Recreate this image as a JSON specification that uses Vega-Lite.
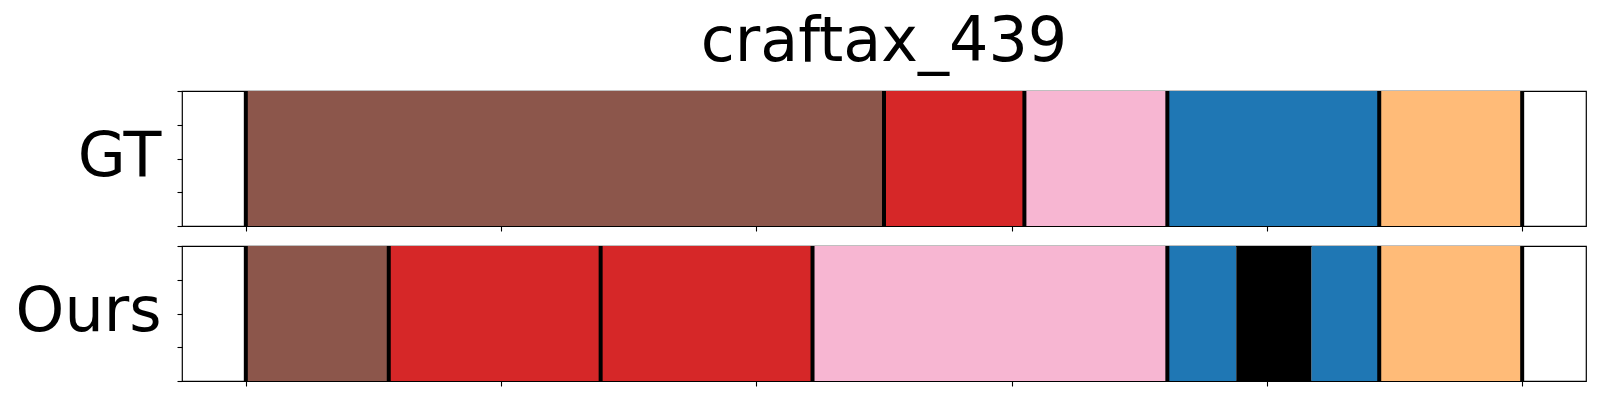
{
  "$schema": "https://vega.github.io/schema/vega-lite/v6.json",
  "background": "white",
  "padding": {"left": 14, "top": 10, "right": 5, "bottom": 5},
  "config": {
    "font": "DejaVu Sans",
    "view": {"stroke": "black", "strokeWidth": 1.2},
    "axis": {"grid": false, "domain": false, "labels": false, "tickColor": "black", "tickSize": 5, "tickWidth": 1.1}
  },
  "datasets": {
    "segments": [
      {"panel": "GT", "start": 0, "end": 250, "cls": "10"},
      {"panel": "GT", "start": 250, "end": 305, "cls": "6"},
      {"panel": "GT", "start": 305, "end": 361, "cls": "13"},
      {"panel": "GT", "start": 361, "end": 444, "cls": "0"},
      {"panel": "GT", "start": 444, "end": 500, "cls": "3"},
      {"panel": "Ours", "start": 0, "end": 56, "cls": "10"},
      {"panel": "Ours", "start": 56, "end": 139, "cls": "6"},
      {"panel": "Ours", "start": 139, "end": 222, "cls": "6"},
      {"panel": "Ours", "start": 222, "end": 361, "cls": "13"},
      {"panel": "Ours", "start": 361, "end": 388, "cls": "0"},
      {"panel": "Ours", "start": 388, "end": 417.5, "cls": "bg"},
      {"panel": "Ours", "start": 417.5, "end": 444, "cls": "0"},
      {"panel": "Ours", "start": 444, "end": 500, "cls": "3"}
    ],
    "bounds": [
      {"panel": "GT", "pos": 0},
      {"panel": "GT", "pos": 250},
      {"panel": "GT", "pos": 305},
      {"panel": "GT", "pos": 361},
      {"panel": "GT", "pos": 444},
      {"panel": "GT", "pos": 500},
      {"panel": "Ours", "pos": 0},
      {"panel": "Ours", "pos": 56},
      {"panel": "Ours", "pos": 139},
      {"panel": "Ours", "pos": 222},
      {"panel": "Ours", "pos": 361},
      {"panel": "Ours", "pos": 444},
      {"panel": "Ours", "pos": 500}
    ]
  },
  "spacing": 10,
  "vconcat": [
    {
      "width": 1404,
      "height": 135,
      "title": {"text": "craftax_439", "fontSize": 62, "font": "DejaVu Sans", "fontWeight": "normal", "color": "black", "anchor": "middle", "frame": "group", "baseline": "alphabetic", "offset": -34},
      "layer": [
        {
          "data": {"name": "segments"},
          "transform": [{"filter": "datum.panel === 'GT'"}],
          "mark": {"type": "rect"},
          "encoding": {
            "x": {"field": "start", "type": "quantitative", "scale": {"domain": [-25, 525], "nice": false, "zero": false}, "axis": {"values": [0, 100, 200, 300, 400, 500], "title": null}},
            "x2": {"field": "end"},
            "y": {"datum": 0, "type": "quantitative", "scale": {"domain": [0, 1], "nice": false}, "axis": {"values": [0, 0.25, 0.5, 0.75, 1], "title": "GT", "titleAngle": 0, "titleAlign": "right", "titleBaseline": "alphabetic", "titleX": -21, "titleY": 84, "titleFontSize": 62, "titleFontWeight": "normal", "titleColor": "black", "titleFont": "DejaVu Sans"}},
            "y2": {"datum": 1},
            "color": {"field": "cls", "type": "nominal", "scale": {"domain": ["0", "3", "6", "10", "13", "bg"], "range": ["#1f77b4", "#ffbb78", "#d62728", "#8c564b", "#f7b6d2", "#000000"]}, "legend": null}
          }
        },
        {
          "data": {"name": "bounds"},
          "transform": [{"filter": "datum.panel === 'GT'"}],
          "mark": {"type": "rule", "strokeWidth": 4, "color": "black"},
          "encoding": {"x": {"field": "pos", "type": "quantitative"}}
        }
      ]
    },
    {
      "width": 1404,
      "height": 135,
      "layer": [
        {
          "data": {"name": "segments"},
          "transform": [{"filter": "datum.panel === 'Ours'"}],
          "mark": {"type": "rect"},
          "encoding": {
            "x": {"field": "start", "type": "quantitative", "scale": {"domain": [-25, 525], "nice": false, "zero": false}, "axis": {"values": [0, 100, 200, 300, 400, 500], "title": null}},
            "x2": {"field": "end"},
            "y": {"datum": 0, "type": "quantitative", "scale": {"domain": [0, 1], "nice": false}, "axis": {"values": [0, 0.25, 0.5, 0.75, 1], "title": "Ours", "titleAngle": 0, "titleAlign": "right", "titleBaseline": "alphabetic", "titleX": -21, "titleY": 84, "titleFontSize": 62, "titleFontWeight": "normal", "titleColor": "black", "titleFont": "DejaVu Sans"}},
            "y2": {"datum": 1},
            "color": {"field": "cls", "type": "nominal", "scale": {"domain": ["0", "3", "6", "10", "13", "bg"], "range": ["#1f77b4", "#ffbb78", "#d62728", "#8c564b", "#f7b6d2", "#000000"]}, "legend": null}
          }
        },
        {
          "data": {"name": "bounds"},
          "transform": [{"filter": "datum.panel === 'Ours'"}],
          "mark": {"type": "rule", "strokeWidth": 4, "color": "black"},
          "encoding": {"x": {"field": "pos", "type": "quantitative"}}
        }
      ]
    }
  ]
}
